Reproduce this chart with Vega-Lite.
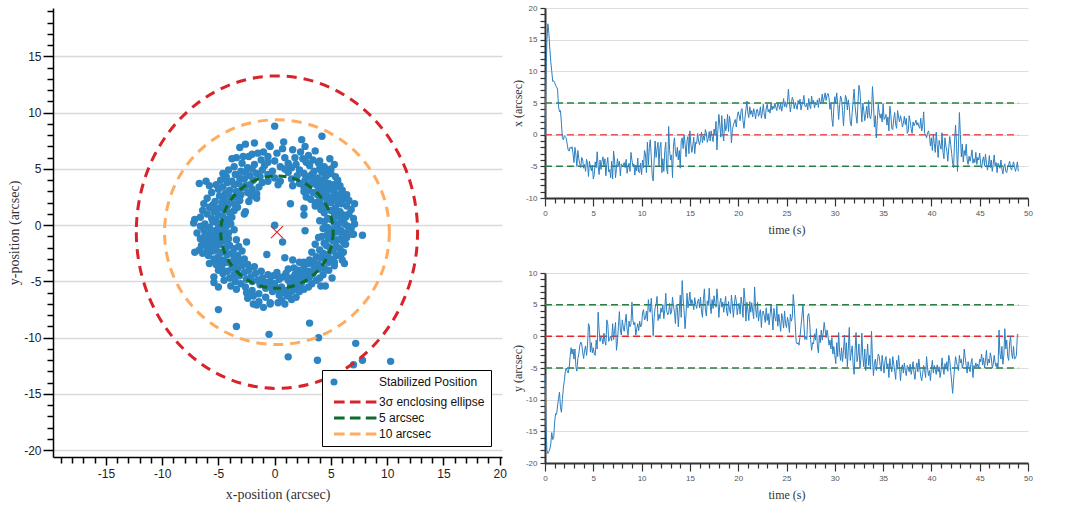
{
"$schema": "https://vega.github.io/schema/vega-lite/v6.json",
"background": "white",
"padding": {"left": 7, "top": 4, "right": 2, "bottom": 2},
"config": {
  "view": {"stroke": null},
  "axis": {"labelFont": "Liberation Sans", "titleFont": "Liberation Serif", "titleFontWeight": "normal", "domainColor": "#000", "tickColor": "#000", "labelColor": "#222", "titleColor": "#333", "gridColor": "#dcdcdc", "labelOverlap": false, "labelFlush": false}
},
"resolve": {"scale": {"color": "independent", "stroke": "independent", "shape": "independent"}, "legend": {"color": "independent", "stroke": "independent", "shape": "independent"}},
"datasets": {
"refs": [{"t":0,"t2":49,"x":5,"y":5,"c":"g"},{"t":0,"t2":49,"x":0,"y":0,"c":"r"},{"t":0,"t2":49,"x":-5,"y":-5,"c":"g"}],
"ts": [
{"t":0,"x":0,"y":-6},{"t":0.1,"x":9,"y":-14},{"t":0.2,"x":15,"y":-18},{"t":0.3,"x":17.5,"y":-18.5},{"t":0.4,"x":16,"y":-18.2},{"t":0.5,"x":13.5,"y":-17.8},{"t":0.6,"x":11.5,"y":-17},{"t":0.7,"x":10,"y":-15.2},{"t":0.8,"x":8.4,"y":-16.3},{"t":0.9,"x":8.5,"y":-16},
{"t":1,"x":8.2,"y":-13.5},{"t":1.1,"x":7.8,"y":-12.2},{"t":1.2,"x":7.5,"y":-12.3},{"t":1.3,"x":7.2,"y":-11},{"t":1.4,"x":4.5,"y":-9.8},{"t":1.5,"x":3.6,"y":-8.8},{"t":1.6,"x":3.8,"y":-11.2},{"t":1.7,"x":1.8,"y":-12},{"t":1.8,"x":-0.5,"y":-10},{"t":1.9,"x":-0.8,"y":-8.2},
{"t":2,"x":-0.2,"y":-7},{"t":2.1,"x":-0.3,"y":-5.6},{"t":2.2,"x":-0.6,"y":-5},{"t":2.3,"x":-1.5,"y":-5.5},{"t":2.4,"x":-2.4,"y":-5.8},{"t":2.5,"x":-2.6,"y":-5},{"t":2.6,"x":-2,"y":-3.2},{"t":2.7,"x":-2.2,"y":-1.8},{"t":2.8,"x":-1.9,"y":-2.8},{"t":2.9,"x":-3,"y":-2},
{"t":3,"x":-4.4,"y":-3.6},{"t":3.1,"x":-2,"y":-2},{"t":3.2,"x":-3.2,"y":-4.8},{"t":3.3,"x":-5,"y":-5.5},{"t":3.4,"x":-2.5,"y":-3.5},{"t":3.5,"x":-3.8,"y":-2.8},{"t":3.6,"x":-4.6,"y":-1.5},{"t":3.7,"x":-5.2,"y":-0.9},{"t":3.8,"x":-3.6,"y":-1.2},{"t":3.9,"x":-4,"y":-2.5},
{"t":4,"x":-5.3,"y":-3.5},{"t":4.1,"x":-4.7,"y":-2.2},{"t":4.2,"x":-5.8,"y":-1.5},{"t":4.3,"x":-3.9,"y":-3},{"t":4.4,"x":-4.5,"y":-1.5},{"t":4.5,"x":-6.6,"y":2},{"t":4.6,"x":-4.2,"y":1.6},{"t":4.7,"x":-5,"y":-2.5},{"t":4.8,"x":-5.7,"y":-1},{"t":4.9,"x":-4.8,"y":-2.6},
{"t":5,"x":-7,"y":-1.8},{"t":5.1,"x":-6.3,"y":-2.8},{"t":5.2,"x":-4.3,"y":-3},{"t":5.3,"x":-5.2,"y":-0.6},{"t":5.4,"x":-2.7,"y":-2},{"t":5.5,"x":-4.9,"y":3.8},{"t":5.6,"x":-6.3,"y":1},{"t":5.7,"x":-4,"y":-0.8},{"t":5.8,"x":-5.5,"y":0},{"t":5.9,"x":-4.2,"y":-0.3},
{"t":6,"x":-3.5,"y":-1.2},{"t":6.1,"x":-5,"y":0.5},{"t":6.2,"x":-3.8,"y":-0.8},{"t":6.3,"x":-6.5,"y":-1.4},{"t":6.4,"x":-4.7,"y":2.6},{"t":6.5,"x":-3.6,"y":1.9},{"t":6.6,"x":-5.9,"y":-0.8},{"t":6.7,"x":-5.5,"y":-0.3},{"t":6.8,"x":-6.8,"y":0},{"t":6.9,"x":-4.2,"y":-0.7},
{"t":7,"x":-7,"y":2},{"t":7.1,"x":-2.6,"y":-0.5},{"t":7.2,"x":-4,"y":0.8},{"t":7.3,"x":-6.8,"y":2.2},{"t":7.4,"x":-5.3,"y":-2.2},{"t":7.5,"x":-3.8,"y":-0.8},{"t":7.6,"x":-5,"y":1.5},{"t":7.7,"x":-4.2,"y":3.9},{"t":7.8,"x":-6.5,"y":1},{"t":7.9,"x":-4.6,"y":0.2},
{"t":8,"x":-5,"y":2.6},{"t":8.1,"x":-4.8,"y":1.5},{"t":8.2,"x":-4.4,"y":0.8},{"t":8.3,"x":-5.2,"y":2.2},{"t":8.4,"x":-3.9,"y":3.5},{"t":8.5,"x":-6.1,"y":1},{"t":8.6,"x":-5,"y":0.2},{"t":8.7,"x":-4.5,"y":2.4},{"t":8.8,"x":-5.8,"y":1.5},{"t":8.9,"x":-2.8,"y":2},
{"t":9,"x":-4,"y":5.4},{"t":9.1,"x":-5,"y":2.5},{"t":9.2,"x":-4.6,"y":1.8},{"t":9.3,"x":-6.4,"y":2.2},{"t":9.4,"x":-4.8,"y":0.2},{"t":9.5,"x":-5.7,"y":1.2},{"t":9.6,"x":-3.7,"y":2},{"t":9.7,"x":-5.9,"y":0.9},{"t":9.8,"x":-6,"y":2.4},{"t":9.9,"x":-4.5,"y":1.5},
{"t":10,"x":-6.3,"y":1.8},{"t":10.1,"x":-4,"y":3.8},{"t":10.2,"x":-5.2,"y":4.2},{"t":10.3,"x":-2.5,"y":2.6},{"t":10.4,"x":-3,"y":2.8},{"t":10.5,"x":-6,"y":4},{"t":10.6,"x":-1.2,"y":2.4},{"t":10.7,"x":-4.8,"y":5.8},{"t":10.8,"x":-2,"y":4.2},{"t":10.9,"x":-0.8,"y":3.8},
{"t":11,"x":-3.5,"y":6},{"t":11.1,"x":-6.5,"y":3.6},{"t":11.2,"x":-7.3,"y":0.1},{"t":11.3,"x":-4,"y":3},{"t":11.4,"x":-1,"y":4.5},{"t":11.5,"x":-3.6,"y":5},{"t":11.6,"x":-2.2,"y":6.3},{"t":11.7,"x":-1.2,"y":2.5},{"t":11.8,"x":-5,"y":3.5},{"t":11.9,"x":-2,"y":2.8},
{"t":12,"x":-1.2,"y":4.5},{"t":12.1,"x":-6,"y":3.8},{"t":12.2,"x":-3.8,"y":5},{"t":12.3,"x":-5.8,"y":2.8},{"t":12.4,"x":-2.5,"y":4.2},{"t":12.5,"x":-1.2,"y":6.8},{"t":12.6,"x":-5.5,"y":4},{"t":12.7,"x":-6.2,"y":3.4},{"t":12.8,"x":1.3,"y":3.7},{"t":12.9,"x":-2.5,"y":5.2},
{"t":13,"x":-4,"y":3.5},{"t":13.1,"x":-3.2,"y":3.8},{"t":13.2,"x":-6.8,"y":6.2},{"t":13.3,"x":-1.8,"y":4.8},{"t":13.4,"x":-0.5,"y":3.8},{"t":13.5,"x":-2.7,"y":2},{"t":13.6,"x":-3.5,"y":5},{"t":13.7,"x":-2,"y":4.5},{"t":13.8,"x":-4,"y":1.5},{"t":13.9,"x":-2.5,"y":4},
{"t":14,"x":-5.3,"y":6.5},{"t":14.1,"x":-1,"y":3},{"t":14.2,"x":-0.5,"y":8.8},{"t":14.3,"x":-2.2,"y":6},{"t":14.4,"x":0,"y":4},{"t":14.5,"x":-1.5,"y":1.2},{"t":14.6,"x":-3.5,"y":3.5},{"t":14.7,"x":-0.9,"y":6.8},{"t":14.8,"x":-0.3,"y":4.5},{"t":14.9,"x":-3,"y":5.6},
{"t":15,"x":0.6,"y":7},{"t":15.1,"x":-1.5,"y":4.8},{"t":15.2,"x":-2.8,"y":5.8},{"t":15.3,"x":-1.8,"y":5.2},{"t":15.4,"x":-0.4,"y":4.2},{"t":15.5,"x":-3,"y":6.1},{"t":15.6,"x":-1.2,"y":5},{"t":15.7,"x":-1.4,"y":4.4},{"t":15.8,"x":0.2,"y":5.5},{"t":15.9,"x":-1,"y":5.9},
{"t":16,"x":-1.6,"y":4.5},{"t":16.1,"x":-0.8,"y":6.2},{"t":16.2,"x":0.4,"y":4},{"t":16.3,"x":-1.3,"y":3},{"t":16.4,"x":-0.2,"y":5.8},{"t":16.5,"x":-0.9,"y":7.5},{"t":16.6,"x":0.8,"y":4.3},{"t":16.7,"x":0.3,"y":3.2},{"t":16.8,"x":-1.2,"y":5.6},{"t":16.9,"x":-0.6,"y":4.9},
{"t":17,"x":0.5,"y":7.6},{"t":17.1,"x":-1,"y":5},{"t":17.2,"x":0.6,"y":3.6},{"t":17.3,"x":-0.3,"y":5.8},{"t":17.4,"x":-1.1,"y":4.4},{"t":17.5,"x":0.9,"y":6.4},{"t":17.6,"x":0,"y":5.2},{"t":17.7,"x":2.1,"y":4.6},{"t":17.8,"x":-2.4,"y":7.5},{"t":17.9,"x":0.8,"y":5.6},
{"t":18,"x":3.2,"y":3},{"t":18.1,"x":1.5,"y":5.2},{"t":18.2,"x":-0.4,"y":6},{"t":18.3,"x":3,"y":4.6},{"t":18.4,"x":0.2,"y":5.4},{"t":18.5,"x":-1,"y":3.8},{"t":18.6,"x":2.5,"y":5},{"t":18.7,"x":0.6,"y":6.3},{"t":18.8,"x":1.2,"y":4},{"t":18.9,"x":3.2,"y":3.2},
{"t":19,"x":0.5,"y":5.5},{"t":19.1,"x":2.9,"y":4.2},{"t":19.2,"x":1.8,"y":3.6},{"t":19.3,"x":-1.3,"y":6.5},{"t":19.4,"x":0.8,"y":5},{"t":19.5,"x":1.5,"y":3},{"t":19.6,"x":2,"y":4.8},{"t":19.7,"x":2.4,"y":6.5},{"t":19.8,"x":1.2,"y":5.6},{"t":19.9,"x":2.8,"y":3.4},
{"t":20,"x":3.6,"y":4.6},{"t":20.1,"x":3,"y":5.2},{"t":20.2,"x":2.2,"y":3.5},{"t":20.3,"x":3.8,"y":6.2},{"t":20.4,"x":4.1,"y":5},{"t":20.5,"x":2.2,"y":3},{"t":20.6,"x":1,"y":7.6},{"t":20.7,"x":2.6,"y":5.8},{"t":20.8,"x":4,"y":2.4},{"t":20.9,"x":5.3,"y":5.4},
{"t":21,"x":3.4,"y":4.2},{"t":21.1,"x":2.7,"y":2.5},{"t":21.2,"x":4.4,"y":5.5},{"t":21.3,"x":3.2,"y":3.8},{"t":21.4,"x":3.8,"y":5.3},{"t":21.5,"x":2.8,"y":4},{"t":21.6,"x":4.1,"y":2.8},{"t":21.7,"x":3.5,"y":7.8},{"t":21.8,"x":2.5,"y":4.5},{"t":21.9,"x":3.9,"y":3},
{"t":22,"x":4,"y":5.4},{"t":22.1,"x":2.9,"y":2.4},{"t":22.2,"x":3.3,"y":3.6},{"t":22.3,"x":4.4,"y":4.2},{"t":22.4,"x":2.6,"y":1.4},{"t":22.5,"x":3.6,"y":3.8},{"t":22.6,"x":4.8,"y":4},{"t":22.7,"x":3.1,"y":3.2},{"t":22.8,"x":2.5,"y":2.2},{"t":22.9,"x":4.2,"y":4.5},
{"t":23,"x":4.8,"y":2.5},{"t":23.1,"x":3.6,"y":3.6},{"t":23.2,"x":4,"y":1.8},{"t":23.3,"x":3.4,"y":3.4},{"t":23.4,"x":4.9,"y":5},{"t":23.5,"x":3.9,"y":3.2},{"t":23.6,"x":4.5,"y":1},{"t":23.7,"x":4.1,"y":4.4},{"t":23.8,"x":5,"y":3},{"t":23.9,"x":4.3,"y":2.4},
{"t":24,"x":3.8,"y":4.8},{"t":24.1,"x":5,"y":1.6},{"t":24.2,"x":4.6,"y":3.5},{"t":24.3,"x":4,"y":2.2},{"t":24.4,"x":4.9,"y":0.8},{"t":24.5,"x":3.7,"y":3.6},{"t":24.6,"x":4.5,"y":2.8},{"t":24.7,"x":5.7,"y":1.3},{"t":24.8,"x":4.4,"y":4},{"t":24.9,"x":5.2,"y":2},
{"t":25,"x":4.3,"y":1.4},{"t":25.1,"x":5.2,"y":3},{"t":25.2,"x":7.2,"y":2.2},{"t":25.3,"x":5,"y":0.6},{"t":25.4,"x":3.6,"y":3.5},{"t":25.5,"x":4.8,"y":2.4},{"t":25.6,"x":5.9,"y":3},{"t":25.7,"x":5.5,"y":6.6},{"t":25.8,"x":4.1,"y":4.8},{"t":25.9,"x":5.1,"y":2},
{"t":26,"x":4.6,"y":-0.8},{"t":26.1,"x":4,"y":-1.2},{"t":26.2,"x":5.4,"y":-1},{"t":26.3,"x":4.8,"y":-1.4},{"t":26.4,"x":5.6,"y":0},{"t":26.5,"x":3.9,"y":1.6},{"t":26.6,"x":4.7,"y":3.2},{"t":26.7,"x":5.2,"y":5},{"t":26.8,"x":6.2,"y":2},{"t":26.9,"x":4.5,"y":-0.5},
{"t":27,"x":4.4,"y":0},{"t":27.1,"x":5,"y":-0.5},{"t":27.2,"x":3.9,"y":3.2},{"t":27.3,"x":5.7,"y":3.6},{"t":27.4,"x":4.6,"y":2.2},{"t":27.5,"x":4.1,"y":-0.5},{"t":27.6,"x":6.1,"y":-2.2},{"t":27.7,"x":4.9,"y":-1},{"t":27.8,"x":5.4,"y":-1.2},{"t":27.9,"x":4.2,"y":0.4},
{"t":28,"x":5,"y":-0.6},{"t":28.1,"x":4.7,"y":1.2},{"t":28.2,"x":5.5,"y":-1.5},{"t":28.3,"x":4.3,"y":-2.6},{"t":28.4,"x":5.8,"y":0.2},{"t":28.5,"x":4.9,"y":-1},{"t":28.6,"x":5.2,"y":1},{"t":28.7,"x":6.4,"y":-0.6},{"t":28.8,"x":5,"y":0.5},{"t":28.9,"x":5.8,"y":2.2},
{"t":29,"x":6.6,"y":1},{"t":29.1,"x":5.4,"y":-0.2},{"t":29.2,"x":6.2,"y":1},{"t":29.3,"x":6.5,"y":0},{"t":29.4,"x":5.8,"y":-1.4},{"t":29.5,"x":4,"y":-0.6},{"t":29.6,"x":5.1,"y":-2},{"t":29.7,"x":2.5,"y":-0.2},{"t":29.8,"x":1.3,"y":-2.8},{"t":29.9,"x":4.2,"y":-1.6},
{"t":30,"x":6,"y":-3},{"t":30.1,"x":5,"y":-4.3},{"t":30.2,"x":6.6,"y":-1},{"t":30.3,"x":4.8,"y":-3.2},{"t":30.4,"x":2.4,"y":0.6},{"t":30.5,"x":4.7,"y":-2.6},{"t":30.6,"x":6.1,"y":-3.8},{"t":30.7,"x":5.6,"y":-1.8},{"t":30.8,"x":3.8,"y":-4},{"t":30.9,"x":1.4,"y":-2.2},
{"t":31,"x":4,"y":0.2},{"t":31.1,"x":6.2,"y":-3.5},{"t":31.2,"x":5.8,"y":-1},{"t":31.3,"x":3.9,"y":-4.8},{"t":31.4,"x":5.5,"y":-2},{"t":31.5,"x":4.4,"y":1.4},{"t":31.6,"x":2,"y":-3.8},{"t":31.7,"x":1.4,"y":-2.6},{"t":31.8,"x":3.5,"y":-1.5},{"t":31.9,"x":5.4,"y":-4.5},
{"t":32,"x":7.2,"y":-6},{"t":32.1,"x":4.5,"y":-2.2},{"t":32.2,"x":3,"y":0.6},{"t":32.3,"x":1.8,"y":-4},{"t":32.4,"x":5,"y":-3},{"t":32.5,"x":7.8,"y":-1.2},{"t":32.6,"x":7,"y":-5},{"t":32.7,"x":4.6,"y":-3.6},{"t":32.8,"x":2,"y":0.5},{"t":32.9,"x":5,"y":-3.2},
{"t":33,"x":3.8,"y":-4.8},{"t":33.1,"x":2.2,"y":-2},{"t":33.2,"x":3.2,"y":-5.4},{"t":33.3,"x":4.5,"y":-3.4},{"t":33.4,"x":2.6,"y":-1.2},{"t":33.5,"x":5.4,"y":-4.6},{"t":33.6,"x":3,"y":-3},{"t":33.7,"x":2.5,"y":-5.2},{"t":33.8,"x":3.4,"y":0.8},{"t":33.9,"x":7.6,"y":-3.5},
{"t":34,"x":5,"y":-6.2},{"t":34.1,"x":1.2,"y":-4.3},{"t":34.2,"x":3,"y":-3.6},{"t":34.3,"x":-0.5,"y":-5.4},{"t":34.4,"x":2.2,"y":-4},{"t":34.5,"x":4.8,"y":-2.8},{"t":34.6,"x":3.5,"y":-3.2},{"t":34.7,"x":2.6,"y":-4.6},{"t":34.8,"x":3.3,"y":-5.5},{"t":34.9,"x":2,"y":-3},
{"t":35,"x":4.9,"y":-4.4},{"t":35.1,"x":2.4,"y":-5.8},{"t":35.2,"x":2.6,"y":-3.8},{"t":35.3,"x":3.2,"y":-3.2},{"t":35.4,"x":1.5,"y":-5},{"t":35.5,"x":2.8,"y":-4.3},{"t":35.6,"x":0.6,"y":-6.5},{"t":35.7,"x":4.5,"y":-3.5},{"t":35.8,"x":3.2,"y":-4.8},{"t":35.9,"x":1,"y":-5.6},
{"t":36,"x":0.8,"y":-3.2},{"t":36.1,"x":2.5,"y":-4.4},{"t":36.2,"x":3.5,"y":-5.5},{"t":36.3,"x":1.6,"y":-6.8},{"t":36.4,"x":1,"y":-3.8},{"t":36.5,"x":3.8,"y":-5.2},{"t":36.6,"x":2.8,"y":-3},{"t":36.7,"x":2,"y":-4.8},{"t":36.8,"x":3,"y":-7},{"t":36.9,"x":2.3,"y":-5},
{"t":37,"x":1.2,"y":-4.5},{"t":37.1,"x":1.8,"y":-5.8},{"t":37.2,"x":2.9,"y":-4.2},{"t":37.3,"x":1.6,"y":-5.4},{"t":37.4,"x":2.6,"y":-6.2},{"t":37.5,"x":0.2,"y":-4.6},{"t":37.6,"x":0.5,"y":-5},{"t":37.7,"x":3,"y":-5.6},{"t":37.8,"x":2.1,"y":-4.4},{"t":37.9,"x":1,"y":-6},
{"t":38,"x":0.2,"y":-5.2},{"t":38.1,"x":2,"y":-4},{"t":38.2,"x":1.4,"y":-5.8},{"t":38.3,"x":1.8,"y":-6.8},{"t":38.4,"x":2.3,"y":-5},{"t":38.5,"x":1.5,"y":-4.2},{"t":38.6,"x":1.9,"y":-5.6},{"t":38.7,"x":1.3,"y":-3.6},{"t":38.8,"x":1,"y":-5},{"t":38.9,"x":2.6,"y":-6.4},
{"t":39,"x":0.6,"y":-7},{"t":39.1,"x":1.5,"y":-5.8},{"t":39.2,"x":3.6,"y":-4.6},{"t":39.3,"x":0.2,"y":-5.4},{"t":39.4,"x":0,"y":-6.5},{"t":39.5,"x":-0.5,"y":-3.2},{"t":39.6,"x":0.3,"y":-5},{"t":39.7,"x":0.6,"y":-6.2},{"t":39.8,"x":-0.2,"y":-5.4},{"t":39.9,"x":-1.8,"y":-7},
{"t":40,"x":-0.5,"y":-5},{"t":40.1,"x":-2.5,"y":-3.8},{"t":40.2,"x":0.1,"y":-5.8},{"t":40.3,"x":-1.4,"y":-4.6},{"t":40.4,"x":-2.8,"y":-5.2},{"t":40.5,"x":0.4,"y":-6},{"t":40.6,"x":-1.6,"y":-4.5},{"t":40.7,"x":-3.6,"y":-5.6},{"t":40.8,"x":-0.9,"y":-4.8},{"t":40.9,"x":-1.7,"y":-6.5},
{"t":41,"x":-2.3,"y":-5.4},{"t":41.1,"x":0.3,"y":-3.4},{"t":41.2,"x":-2.8,"y":-5},{"t":41.3,"x":-3.8,"y":-6},{"t":41.4,"x":-0.5,"y":-4.3},{"t":41.5,"x":-1.8,"y":-5.2},{"t":41.6,"x":-2.6,"y":-4},{"t":41.7,"x":-4.2,"y":-5.5},{"t":41.8,"x":-2,"y":-3},{"t":41.9,"x":-0.3,"y":-3.8},
{"t":42,"x":-1.6,"y":-5.6},{"t":42.1,"x":-3,"y":-7.2},{"t":42.2,"x":-4.5,"y":-9},{"t":42.3,"x":-5.2,"y":-6.8},{"t":42.4,"x":-1,"y":-5},{"t":42.5,"x":1.5,"y":-3.2},{"t":42.6,"x":-1.5,"y":-4},{"t":42.7,"x":-5.8,"y":-4.8},{"t":42.8,"x":-2,"y":-5.4},{"t":42.9,"x":3.5,"y":-3},
{"t":43,"x":0,"y":-4.2},{"t":43.1,"x":-3.5,"y":-3.6},{"t":43.2,"x":-1.5,"y":-5},{"t":43.3,"x":-4.3,"y":-4.4},{"t":43.4,"x":-2.5,"y":-2},{"t":43.5,"x":-3.3,"y":-3.4},{"t":43.6,"x":-1.5,"y":-4.6},{"t":43.7,"x":-4,"y":-5.8},{"t":43.8,"x":-4.7,"y":-4},{"t":43.9,"x":-3.4,"y":-4.8},
{"t":44,"x":-4.2,"y":-5.6},{"t":44.1,"x":-3.5,"y":-4.2},{"t":44.2,"x":-2.4,"y":-3.5},{"t":44.3,"x":-4.5,"y":-6.5},{"t":44.4,"x":-3.8,"y":-4.6},{"t":44.5,"x":-4.4,"y":-5},{"t":44.6,"x":-2.8,"y":-4.2},{"t":44.7,"x":-4.7,"y":-4.8},{"t":44.8,"x":-3.6,"y":-4.4},{"t":44.9,"x":-4,"y":-5},
{"t":45,"x":-2.9,"y":-3.6},{"t":45.1,"x":-4.6,"y":-4},{"t":45.2,"x":-5.3,"y":-2.8},{"t":45.3,"x":-4,"y":-4.5},{"t":45.4,"x":-3.5,"y":-3.4},{"t":45.5,"x":-4.9,"y":-5},{"t":45.6,"x":-3.1,"y":-3.8},{"t":45.7,"x":-4.5,"y":-2.2},{"t":45.8,"x":-5.6,"y":-4.6},{"t":45.9,"x":-4.8,"y":-3.6},
{"t":46,"x":-3.3,"y":-4.2},{"t":46.1,"x":-5.2,"y":-2.6},{"t":46.2,"x":-4,"y":-3.4},{"t":46.3,"x":-5.8,"y":-5},{"t":46.4,"x":-4.7,"y":-4.4},{"t":46.5,"x":-3.2,"y":-3},{"t":46.6,"x":-5,"y":-4.2},{"t":46.7,"x":-4.4,"y":-4.8},{"t":46.8,"x":-6,"y":-4.2},{"t":46.9,"x":-4.5,"y":-5},
{"t":47,"x":-4.8,"y":1},{"t":47.1,"x":-5.3,"y":-2.8},{"t":47.2,"x":-4,"y":-3.6},{"t":47.3,"x":-5.4,"y":-1.6},{"t":47.4,"x":-6.2,"y":-4.4},{"t":47.5,"x":-5,"y":-3},{"t":47.6,"x":-4.6,"y":1.2},{"t":47.7,"x":-5.8,"y":-2},{"t":47.8,"x":-6,"y":-0.6},{"t":47.9,"x":-5.1,"y":-3.2},
{"t":48,"x":-4.7,"y":-3.8},{"t":48.1,"x":-4.2,"y":-1},{"t":48.2,"x":-5.2,"y":0},{"t":48.3,"x":-5.6,"y":-2.6},{"t":48.4,"x":-4.9,"y":-3.5},{"t":48.5,"x":-4.3,"y":-1.6},{"t":48.6,"x":-5,"y":-3.6},{"t":48.7,"x":-5.8,"y":-3.4},{"t":48.8,"x":-5.2,"y":-3},{"t":48.9,"x":-4.3,"y":0.3},
{"t":49,"x":-5.8,"y":0.3}
],
"scatter": [
{"x":0,"y":8.8},{"x":4.2,"y":7.9},{"x":2.4,"y":7.6},{"x":0.8,"y":7.4},{"x":-1.8,"y":7.3},{"x":-0.5,"y":7.1},{"x":2.7,"y":7},{"x":-2.6,"y":7.2},{"x":-3.1,"y":6.9},{"x":0.7,"y":6.8},{"x":-0.4,"y":7},
{"x":3.6,"y":6.6},{"x":-1,"y":6.5},{"x":1.6,"y":6.7},{"x":0.2,"y":6.4},{"x":-2,"y":6.3},{"x":2.3,"y":6.5},{"x":-1.5,"y":6.4},
{"x":-2.8,"y":6.1},{"x":0.9,"y":6},{"x":3,"y":6.2},{"x":-0.6,"y":6.1},{"x":1.8,"y":6},{"x":-3.4,"y":6},{"x":4.9,"y":5.9},{"x":-2.3,"y":6.1},
{"x":-1.2,"y":5.8},{"x":0,"y":5.7},{"x":2.5,"y":5.9},{"x":3.4,"y":5.8},{"x":4,"y":5.7},{"x":-3.8,"y":5.9},
{"x":-2.9,"y":5.5},{"x":-1.8,"y":5.4},{"x":-0.6,"y":5.6},{"x":1.2,"y":5.5},{"x":1.9,"y":5.4},{"x":2.8,"y":5.6},{"x":3.9,"y":5.5},{"x":5.3,"y":5.4},
{"x":-3.6,"y":5.2},{"x":-2.4,"y":5.1},{"x":-0.9,"y":5.3},{"x":0.5,"y":5.2},{"x":1.5,"y":5.1},{"x":3.1,"y":5.3},{"x":4.4,"y":5.2},{"x":5,"y":5},
{"x":-4.1,"y":4.9},{"x":-3,"y":4.8},{"x":-2,"y":5},{"x":-1.1,"y":4.9},{"x":-0.2,"y":4.8},{"x":0.9,"y":5},{"x":2.2,"y":4.9},{"x":3.5,"y":4.8},{"x":4,"y":5},{"x":4.6,"y":4.9},
{"x":-4.6,"y":4.6},{"x":-3.5,"y":4.5},{"x":-2.6,"y":4.7},{"x":-1.6,"y":4.6},{"x":-0.6,"y":4.5},{"x":1.2,"y":4.7},{"x":2.6,"y":4.6},{"x":3.3,"y":4.5},{"x":4.2,"y":4.7},{"x":5,"y":4.6},
{"x":-4.3,"y":4.3},{"x":-3.1,"y":4.2},{"x":-2.2,"y":4.4},{"x":-1.3,"y":4.3},{"x":0,"y":4.2},{"x":2,"y":4.4},{"x":3,"y":4.3},{"x":3.8,"y":4.2},{"x":4.6,"y":4.4},{"x":5.4,"y":4.3},
{"x":-4.8,"y":4},{"x":-3.8,"y":3.9},{"x":-2.7,"y":4.1},{"x":-1.9,"y":4},{"x":0.5,"y":3.9},{"x":1.5,"y":4.1},{"x":2.7,"y":4},{"x":3.4,"y":3.9},{"x":4.4,"y":4.1},{"x":5.6,"y":4},
{"x":-6.1,"y":3.9},{"x":-0.6,"y":3.9},
{"x":-6.7,"y":3.7},{"x":-5.2,"y":3.6},{"x":-4.2,"y":3.8},{"x":-3.2,"y":3.7},{"x":-2.2,"y":3.6},{"x":-1.1,"y":3.8},{"x":2.2,"y":3.7},{"x":3.1,"y":3.6},{"x":4,"y":3.8},{"x":4.8,"y":3.7},{"x":5.2,"y":3.6},{"x":5.8,"y":3.5},
{"x":-5.8,"y":3.5},{"x":-4.6,"y":3.4},{"x":-3.6,"y":3.6},{"x":-2.6,"y":3.5},{"x":-1.4,"y":3.4},{"x":0.3,"y":3.6},{"x":1.6,"y":3.5},{"x":2.6,"y":3.4},{"x":3.7,"y":3.6},{"x":4.5,"y":3.5},{"x":5.5,"y":3.4},
{"x":-5,"y":3.2},{"x":-4,"y":3.1},{"x":-2.9,"y":3.3},{"x":-2,"y":3.2},{"x":3,"y":3.1},{"x":3.9,"y":3.3},{"x":4.9,"y":3.2},{"x":6,"y":3.1},
{"x":-5.6,"y":2.9},{"x":-4.4,"y":2.8},{"x":-3.4,"y":3},{"x":-2.4,"y":2.9},{"x":-1.6,"y":2.8},{"x":2.6,"y":3},{"x":3.4,"y":2.9},{"x":4,"y":2.8},{"x":4.4,"y":3},{"x":5.3,"y":2.9},{"x":5.9,"y":2.8},
{"x":-4.9,"y":2.6},{"x":-3.9,"y":2.5},{"x":-3,"y":2.7},{"x":-2.1,"y":2.6},{"x":2.8,"y":2.5},{"x":3.8,"y":2.7},{"x":4.7,"y":2.6},{"x":5.6,"y":2.5},{"x":6.4,"y":2.7},
{"x":-6,"y":2.4},{"x":-4.5,"y":2.3},{"x":-3.4,"y":2.5},{"x":-1.6,"y":2.4},{"x":3.2,"y":2.3},{"x":4.3,"y":2.5},{"x":5.1,"y":2.4},{"x":6.1,"y":2.3},
{"x":-5.3,"y":2.1},{"x":-4.2,"y":2},{"x":-3.1,"y":2.2},{"x":-2.3,"y":2.1},{"x":3.6,"y":2},{"x":4,"y":2.2},{"x":4.7,"y":2.1},{"x":5.6,"y":2},{"x":6.6,"y":2.2},
{"x":-6.3,"y":1.9},{"x":-5.5,"y":1.8},{"x":-4.7,"y":2},{"x":-3.6,"y":1.9},{"x":1.4,"y":1.9},{"x":4.2,"y":1.8},{"x":5,"y":2},{"x":5.9,"y":1.9},{"x":7.1,"y":1.9},
{"x":-5.8,"y":1.6},{"x":-5,"y":1.5},{"x":-4.2,"y":1.7},{"x":-3.3,"y":1.6},{"x":2.6,"y":1.5},{"x":3.6,"y":1.7},{"x":4.5,"y":1.6},{"x":5.4,"y":1.5},{"x":6.4,"y":1.7},
{"x":-6.4,"y":1.3},{"x":-5.4,"y":1.2},{"x":-4.5,"y":1.4},{"x":-3.6,"y":1.3},{"x":-2.6,"y":1.2},{"x":4.1,"y":1.4},{"x":5,"y":1.3},{"x":5.8,"y":1.2},{"x":6.8,"y":1.4},
{"x":-6,"y":1},{"x":-5,"y":0.9},{"x":-4,"y":1.1},{"x":-2.7,"y":1},{"x":2.6,"y":0.9},{"x":4.4,"y":1.1},{"x":5.3,"y":1},{"x":6.1,"y":0.9},{"x":6.6,"y":1},
{"x":-6.6,"y":0.7},{"x":-5.6,"y":0.6},{"x":-4.6,"y":0.8},{"x":-3.8,"y":0.7},{"x":4.7,"y":0.6},{"x":5.5,"y":0.8},{"x":6.3,"y":0.7},{"x":7,"y":0.6},
{"x":-7.1,"y":0.5},{"x":-5.2,"y":0.4},{"x":-4.2,"y":0.5},{"x":4,"y":0.4},{"x":5,"y":0.5},{"x":5.9,"y":0.4},
{"x":-7.2,"y":0.2},{"x":-6.2,"y":0.1},{"x":-5.5,"y":0.3},{"x":-4.7,"y":0.2},{"x":-3.9,"y":0.1},{"x":4.4,"y":0.3},{"x":5.3,"y":0.2},{"x":6.2,"y":0.1},{"x":7.1,"y":0.1},
{"x":0,"y":0},
{"x":-6.6,"y":-0.1},{"x":-5.8,"y":-0.2},{"x":-5,"y":0},{"x":-4.3,"y":-0.1},{"x":4.7,"y":-0.2},{"x":5.6,"y":0},{"x":6.5,"y":-0.1},
{"x":-6.3,"y":-0.4},{"x":-5.3,"y":-0.5},{"x":-4.5,"y":-0.3},{"x":-3.6,"y":-0.4},{"x":2.7,"y":-0.5},{"x":4.3,"y":-0.3},{"x":5.1,"y":-0.4},{"x":5.9,"y":-0.5},{"x":6.8,"y":-0.3},
{"x":-6.9,"y":-0.7},{"x":-5.8,"y":-0.8},{"x":-4.9,"y":-0.6},{"x":-4.1,"y":-0.7},{"x":4.7,"y":-0.8},{"x":5.5,"y":-0.6},{"x":6.3,"y":-0.7},{"x":7,"y":-0.8},
{"x":-6.2,"y":-0.9},{"x":-5.4,"y":-1},{"x":-4.5,"y":-0.9},{"x":4.2,"y":-1},{"x":5.1,"y":-0.9},{"x":6,"y":-1},{"x":6.9,"y":-0.8},{"x":7.8,"y":-0.9},
{"x":-6.6,"y":-1.2},{"x":-5.8,"y":-1.3},{"x":-5,"y":-1.1},{"x":-4.1,"y":-1.2},{"x":-3.4,"y":-1.3},{"x":3.9,"y":-1.1},{"x":4.8,"y":-1.2},{"x":5.6,"y":-1.3},{"x":6.4,"y":-1.1},
{"x":-6.1,"y":-1.5},{"x":-5.3,"y":-1.6},{"x":-4.5,"y":-1.4},{"x":-2.5,"y":-1.5},{"x":0.7,"y":-1.5},{"x":4.4,"y":-1.6},{"x":5.2,"y":-1.4},{"x":6.1,"y":-1.5},
{"x":-6.5,"y":-1.8},{"x":-5.7,"y":-1.9},{"x":-4.9,"y":-1.7},{"x":-4,"y":-1.8},{"x":-3.2,"y":-1.9},{"x":3.6,"y":-1.7},{"x":4.6,"y":-1.8},{"x":5.5,"y":-1.9},{"x":6.3,"y":-1.7},
{"x":-6,"y":-2.1},{"x":-5.2,"y":-2.2},{"x":-4.3,"y":-2},{"x":-3.6,"y":-2.1},{"x":4,"y":-2.2},{"x":4.9,"y":-2},{"x":5.8,"y":-2.1},
{"x":-7.1,"y":-2.4},{"x":-6.4,"y":-2.5},{"x":-5.5,"y":-2.3},{"x":-4.7,"y":-2.4},{"x":-3.8,"y":-2.5},{"x":-2.9,"y":-2.3},{"x":3.3,"y":-2.4},{"x":4.3,"y":-2.5},{"x":5.2,"y":-2.3},{"x":6.1,"y":-2.4},
{"x":-0.7,"y":-2.6},{"x":-6.7,"y":-2.2},{"x":5.9,"y":-2.6},
{"x":-5.9,"y":-2.7},{"x":-5,"y":-2.8},{"x":-4.2,"y":-2.6},{"x":-3.3,"y":-2.7},{"x":3.7,"y":-2.8},{"x":4.7,"y":-2.6},{"x":5.5,"y":-2.7},
{"x":-5.4,"y":-3},{"x":-4.5,"y":-3.1},{"x":-3.6,"y":-2.9},{"x":-2.7,"y":-3},{"x":0.9,"y":-2.9},{"x":3.1,"y":-3.1},{"x":4.1,"y":-2.9},{"x":5,"y":-3},{"x":6,"y":-3.1},
{"x":-4.9,"y":-3.2},{"x":-4,"y":-3.3},{"x":-3.1,"y":-3.1},{"x":1.6,"y":-3.1},{"x":2.6,"y":-3.3},{"x":3.5,"y":-3.2},{"x":4.5,"y":-3.1},{"x":5.3,"y":-3.3},
{"x":-5.8,"y":-3.4},{"x":-5.2,"y":-3.5},{"x":-4.3,"y":-3.3},{"x":-3.5,"y":-3.4},{"x":-2.4,"y":-3.5},{"x":2.2,"y":-3.3},{"x":3,"y":-3.4},{"x":3.9,"y":-3.5},{"x":4.8,"y":-3.3},{"x":6.2,"y":-3.4},
{"x":-4.7,"y":-3.7},{"x":-3.8,"y":-3.8},{"x":-2.9,"y":-3.6},{"x":-1.8,"y":-3.7},{"x":1.7,"y":-3.8},{"x":2.6,"y":-3.6},{"x":3.5,"y":-3.7},{"x":4.4,"y":-3.8},{"x":5.3,"y":-3.6},
{"x":-5,"y":-4},{"x":-4.2,"y":-4.1},{"x":-3.3,"y":-3.9},{"x":-2.3,"y":-4},{"x":-1.2,"y":-4.1},{"x":1.2,"y":-3.9},{"x":2.1,"y":-4},{"x":3,"y":-4.1},{"x":3.9,"y":-3.9},{"x":4.8,"y":-4},
{"x":-4.6,"y":-4.3},{"x":-3.6,"y":-4.4},{"x":-2.7,"y":-4.2},{"x":-1.7,"y":-4.3},{"x":-0.6,"y":-4.4},{"x":0.2,"y":-4.2},{"x":1,"y":-4.3},{"x":1.8,"y":-4.4},{"x":2.6,"y":-4.2},{"x":3.4,"y":-4.3},{"x":4.3,"y":-4.4},
{"x":-5.4,"y":-4.6},{"x":-4,"y":-4.7},{"x":-3.1,"y":-4.5},{"x":-2.1,"y":-4.6},{"x":-1.1,"y":-4.7},{"x":-0.1,"y":-4.5},{"x":0.7,"y":-4.6},{"x":1.5,"y":-4.7},{"x":2.3,"y":-4.5},{"x":3.1,"y":-4.6},{"x":4,"y":-4.7},{"x":5.1,"y":-4.7},
{"x":-4.5,"y":-4.9},{"x":-3.5,"y":-5},{"x":-2.5,"y":-4.8},{"x":-1.5,"y":-4.9},{"x":-0.4,"y":-5},{"x":0.4,"y":-4.8},{"x":1.2,"y":-4.9},{"x":2,"y":-5},{"x":2.8,"y":-4.8},{"x":3.7,"y":-4.9},
{"x":-5.4,"y":-5.1},{"x":-3,"y":-5.2},{"x":-2,"y":-5},{"x":-0.8,"y":-5.1},{"x":0,"y":-5.2},{"x":1.6,"y":-5},{"x":2.4,"y":-5.1},{"x":3.3,"y":-5.2},
{"x":-3.9,"y":-5.4},{"x":-2.6,"y":-5.5},{"x":-1.3,"y":-5.3},{"x":-0.3,"y":-5.4},{"x":0.6,"y":-5.5},{"x":1.4,"y":-5.3},{"x":2.1,"y":-5.4},{"x":3,"y":-5.5},{"x":4.1,"y":-5.4},{"x":4.5,"y":-5.4},
{"x":-5,"y":-5.5},
{"x":-3.4,"y":-5.7},{"x":-2,"y":-5.8},{"x":-0.8,"y":-5.6},{"x":0.2,"y":-5.7},{"x":1,"y":-5.8},{"x":1.8,"y":-5.6},{"x":2.6,"y":-5.7},{"x":1.6,"y":-5.8},
{"x":-2.5,"y":-6},{"x":-1.4,"y":-6.1},{"x":-0.2,"y":-5.9},{"x":0.7,"y":-6},{"x":1.3,"y":-6.1},{"x":2.2,"y":-5.9},
{"x":-1.9,"y":-6.3},{"x":-0.8,"y":-6.4},{"x":0.4,"y":-6.2},{"x":1.1,"y":-6.3},{"x":1.9,"y":-6.4},
{"x":-2.4,"y":-6.5},{"x":1.5,"y":-6.6},{"x":-1.4,"y":-6.8},{"x":-0.4,"y":-6.9},{"x":0.6,"y":-6.7},{"x":0.3,"y":-6.9},
{"x":-1.9,"y":-7},{"x":0.9,"y":-7},{"x":-0.4,"y":-7},{"x":-1.6,"y":-7.1},{"x":-1,"y":-7.3},{"x":-5,"y":-7.5},
{"x":-3.4,"y":-9},{"x":-0.5,"y":-9.7},{"x":3.1,"y":-8.7},{"x":3.9,"y":-10},{"x":1.2,"y":-11.7},{"x":3.8,"y":-12},{"x":7.2,"y":-10.5},{"x":7,"y":-12.4},{"x":7.8,"y":-12},{"x":10.3,"y":-12.1},{"x":7.8,"y":-13.4}
],
"center": [{"x":0.2,"y":-0.62}]
},
"bounds": "flush",
"spacing": 43,
"hconcat": [
{
  "width": 449, "height": 449,
  "encoding": {
    "x": {"field": "x", "type": "quantitative", "scale": {"domain": [-19.7, 20.2], "nice": false, "zero": false},
      "axis": {"title": "x-position (arcsec)", "values": [-19,-18,-17,-16,-15,-14,-13,-12,-11,-10,-9,-8,-7,-6,-5,-4,-3,-2,-1,0,1,2,3,4,5,6,7,8,9,10,11,12,13,14,15,16,17,18,19,20],
        "labelExpr": "datum.value % 5 === 0 ? '' + datum.value : ''", "grid": false,
        "tickSize": {"condition": {"test": "datum.value % 5 === 0", "value": 8}, "value": 6},
        "tickWidth": 1.5, "domainWidth": 1.5, "labelFontSize": 12, "titleFontSize": 14, "labelPadding": 3, "titlePadding": 8}},
    "y": {"field": "y", "type": "quantitative", "scale": {"domain": [-20.6, 19.3], "nice": false, "zero": false},
      "axis": {"title": "y-position (arcsec)", "values": [-20,-19,-18,-17,-16,-15,-14,-13,-12,-11,-10,-9,-8,-7,-6,-5,-4,-3,-2,-1,0,1,2,3,4,5,6,7,8,9,10,11,12,13,14,15,16,17,18,19],
        "labelExpr": "datum.value % 5 === 0 ? '' + datum.value : ''", "grid": true,
        "gridOpacity": {"condition": {"test": "datum.value % 5 === 0", "value": 1}, "value": 0},
        "gridColor": "#d9d9d9", "gridWidth": 1.5,
        "tickSize": {"condition": {"test": "datum.value % 5 === 0", "value": 10}, "value": 6},
        "tickWidth": 1.5, "domainWidth": 1.5, "labelFontSize": 12, "titleFontSize": 14, "labelPadding": 2, "titlePadding": 2}}
  },
  "layer": [
    {"data": {"name": "scatter"},
     "mark": {"type": "point", "filled": true, "opacity": 1, "size": 55},
     "encoding": {
       "color": {"datum": "Stabilized Position", "type": "nominal",
        "scale": {"domain": ["Stabilized Position", "3σ enclosing ellipse", "5 arcsec", "10 arcsec"], "range": ["#2c84c2", "#d8232a", "#0e6b2a", "#ffab60"]},
        "legend": {"title": null, "orient": "bottom-right", "offset": 11, "strokeColor": "black", "fillColor": "white", "padding": 6,
          "labelFont": "Liberation Sans", "labelFontSize": 12, "labelColor": "#111", "symbolSize": 50, "symbolStrokeWidth": 3, "symbolOpacity": 1, "labelOffset": 39, "rowPadding": 4}},
       "stroke": {"datum": "Stabilized Position", "type": "nominal",
        "scale": {"domain": ["Stabilized Position", "3σ enclosing ellipse", "5 arcsec", "10 arcsec"], "range": ["transparent", "#d8232a", "#0e6b2a", "#ffab60"]},
        "legend": {"title": null, "orient": "bottom-right", "offset": 11, "strokeColor": "black", "fillColor": "white", "padding": 6,
          "labelFont": "Liberation Sans", "labelFontSize": 12, "labelColor": "#111", "symbolSize": 50, "symbolStrokeWidth": 3, "symbolOpacity": 1, "labelOffset": 39, "rowPadding": 4}},
       "shape": {"datum": "Stabilized Position", "type": "nominal",
        "scale": {"domain": ["Stabilized Position", "3σ enclosing ellipse", "5 arcsec", "10 arcsec"], "range": ["circle", "M0,0H3M4.5,0H7.5M9,0H12", "M0,0H3M4.5,0H7.5M9,0H12", "M0,0H3M4.5,0H7.5M9,0H12"]},
        "legend": {"title": null, "orient": "bottom-right", "offset": 11, "strokeColor": "black", "fillColor": "white", "padding": 6,
          "labelFont": "Liberation Sans", "labelFontSize": 12, "labelColor": "#111", "symbolSize": 50, "symbolStrokeWidth": 3, "symbolOpacity": 1, "labelOffset": 39, "rowPadding": 4}}
     }},
    {"data": {"name": "center"}, "mark": {"type": "point", "shape": "circle", "size": 12634, "filled": false, "color": "#0e6b2a", "strokeWidth": 3, "strokeDash": [8, 6], "opacity": 1}},
    {"data": {"name": "center"}, "mark": {"type": "point", "shape": "circle", "size": 50535, "filled": false, "color": "#ffab60", "strokeWidth": 3, "strokeDash": [10, 7], "opacity": 1}},
    {"data": {"name": "center"}, "mark": {"type": "point", "shape": "M-0.9,0A0.9,1 0 1,0 0.9,0A0.9,1 0 1,0 -0.9,0Z", "size": 97656, "filled": false, "color": "#d8232a", "strokeWidth": 3, "strokeDash": [10, 7], "opacity": 1}},
    {"data": {"name": "center"}, "mark": {"type": "point", "shape": "M-1,-1L1,1M-1,1L1,-1", "size": 144, "filled": false, "color": "#e8262a", "strokeWidth": 1.2, "opacity": 1}}
  ]
},
{
  "bounds": "flush",
  "spacing": 75,
  "vconcat": [
    {
      "width": 483, "height": 190,
      "encoding": {
        "x": {"field": "t", "type": "quantitative", "scale": {"domain": [0, 50], "nice": false, "zero": false},
          "axis": {"title": "time (s)", "values": [0,1,2,3,4,5,6,7,8,9,10,11,12,13,14,15,16,17,18,19,20,21,22,23,24,25,26,27,28,29,30,31,32,33,34,35,36,37,38,39,40,41,42,43,44,45,46,47,48,49,50],
            "labelExpr": "datum.value % 5 === 0 ? '' + datum.value : ''", "grid": false,
            "tickSize": {"condition": {"test": "datum.value % 5 === 0", "value": 8}, "value": 5},
            "tickWidth": 1.2, "domainWidth": 2, "domainColor": "#333", "tickColor": "#333", "labelFontSize": 8, "labelColor": "#555", "titleFontSize": 12, "labelPadding": 3, "titlePadding": 7}},
        "y": {"field": "x", "type": "quantitative", "scale": {"domain": [-10, 20], "nice": false, "zero": false},
          "axis": {"title": "x (arcsec)", "values": [-10,-9,-8,-7,-6,-5,-4,-3,-2,-1,0,1,2,3,4,5,6,7,8,9,10,11,12,13,14,15,16,17,18,19,20],
            "labelExpr": "datum.value % 5 === 0 ? '' + datum.value : ''", "grid": true,
            "gridOpacity": {"condition": {"test": "datum.value % 5 === 0", "value": 1}, "value": 0},
            "gridColor": "#dddddd", "gridWidth": 1.2,
            "tickSize": 5, "tickWidth": 1.2, "domainWidth": 2, "domainColor": "#333", "tickColor": "#333", "labelFontSize": 8, "labelColor": "#555", "titleFontSize": 12, "labelPadding": 3, "titlePadding": 1}}
      },
      "layer": [
        {"data": {"name": "refs"}, "transform": [{"filter": "datum.c === 'g'"}], "mark": {"type": "rule", "color": "#2a8040", "strokeDash": [7, 4], "strokeWidth": 1.5}, "encoding": {"x2": {"field": "t2"}}},
        {"data": {"name": "refs"}, "transform": [{"filter": "datum.c === 'r'"}], "mark": {"type": "rule", "color": "#e53b3f", "strokeDash": [7, 4], "strokeWidth": 1.5, "opacity": 0.85}, "encoding": {"x2": {"field": "t2"}}},
        {"data": {"name": "ts"}, "mark": {"type": "line", "color": "#2e7fc0", "strokeWidth": 1}}
      ]
    },
    {
      "width": 483, "height": 190,
      "encoding": {
        "x": {"field": "t", "type": "quantitative", "scale": {"domain": [0, 50], "nice": false, "zero": false},
          "axis": {"title": "time (s)", "values": [0,1,2,3,4,5,6,7,8,9,10,11,12,13,14,15,16,17,18,19,20,21,22,23,24,25,26,27,28,29,30,31,32,33,34,35,36,37,38,39,40,41,42,43,44,45,46,47,48,49,50],
            "labelExpr": "datum.value % 5 === 0 ? '' + datum.value : ''", "grid": false,
            "tickSize": {"condition": {"test": "datum.value % 5 === 0", "value": 8}, "value": 5},
            "tickWidth": 1.2, "domainWidth": 2, "domainColor": "#333", "tickColor": "#333", "labelFontSize": 8, "labelColor": "#555", "titleFontSize": 12, "labelPadding": 3, "titlePadding": 7}},
        "y": {"field": "y", "type": "quantitative", "scale": {"domain": [-20, 10], "nice": false, "zero": false},
          "axis": {"title": "y (arcsec)", "values": [-20,-19,-18,-17,-16,-15,-14,-13,-12,-11,-10,-9,-8,-7,-6,-5,-4,-3,-2,-1,0,1,2,3,4,5,6,7,8,9,10],
            "labelExpr": "datum.value % 5 === 0 ? '' + datum.value : ''", "grid": true,
            "gridOpacity": {"condition": {"test": "datum.value % 5 === 0", "value": 1}, "value": 0},
            "gridColor": "#dddddd", "gridWidth": 1.2,
            "tickSize": 5, "tickWidth": 1.2, "domainWidth": 2, "domainColor": "#333", "tickColor": "#333", "labelFontSize": 8, "labelColor": "#555", "titleFontSize": 12, "labelPadding": 3, "titlePadding": 1}}
      },
      "layer": [
        {"data": {"name": "refs"}, "transform": [{"filter": "datum.c === 'g'"}], "mark": {"type": "rule", "color": "#2a8040", "strokeDash": [7, 4], "strokeWidth": 1.5}, "encoding": {"x2": {"field": "t2"}}},
        {"data": {"name": "refs"}, "transform": [{"filter": "datum.c === 'r'"}], "mark": {"type": "rule", "color": "#e8262a", "strokeDash": [7, 4], "strokeWidth": 1.5}, "encoding": {"x2": {"field": "t2"}}},
        {"data": {"name": "ts"}, "mark": {"type": "line", "color": "#2e7fc0", "strokeWidth": 1}}
      ]
    }
  ]
}
]
}
